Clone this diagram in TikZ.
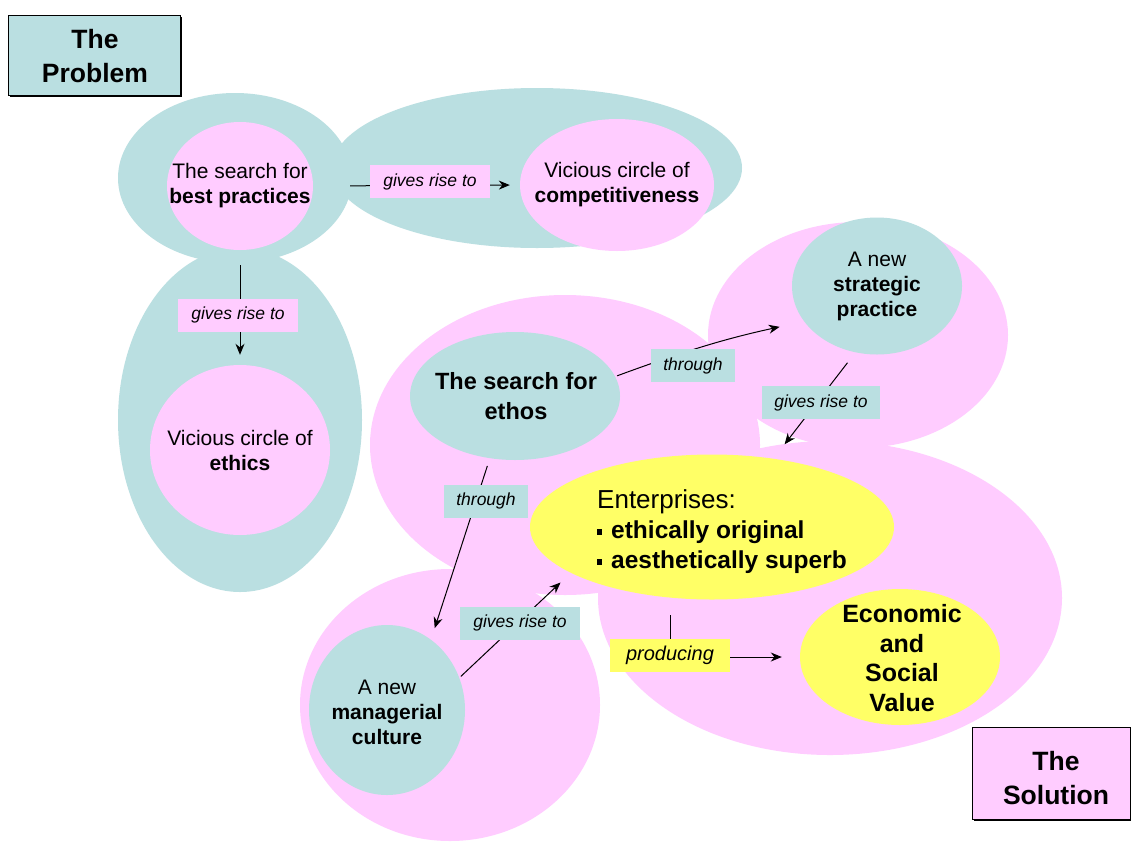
\documentclass[tikz,border=0pt]{standalone}
\usepackage{fontspec}
\setmainfont{Liberation Sans}
\usetikzlibrary{arrows.meta,shapes.geometric,shadows}
\definecolor{tealc}{RGB}{186,223,225}
\definecolor{pinkc}{RGB}{255,204,255}
\definecolor{yelc}{RGB}{255,255,102}
\begin{document}
\begin{tikzpicture}[x=1pt,y=-1pt,
  oval/.style={ellipse, inner sep=0pt},
  txt/.style={inner sep=0pt, align=center, font=\fontsize{21}{25}\selectfont},
  conn/.style={-{Stealth[length=11pt,width=9pt]}, line width=1pt, black},
  lab/.style={font=\fontsize{17.5}{19}\selectfont\itshape, minimum height=33pt, inner sep=0pt},
  titlebox/.style={draw=black, line width=0.8pt, inner sep=0pt,
    drop shadow={shadow xshift=2pt, shadow yshift=-2pt, fill=black, opacity=1}},
  titletxt/.style={inner sep=0pt, align=center, font=\fontsize{26.5}{34.5}\selectfont\bfseries}
]
\useasboundingbox[fill=white] (0,0) rectangle (1131,841);

% problem region
\fill[tealc] (235,178) ellipse [x radius=117, y radius=85];
\fill[tealc] (537,168) ellipse [x radius=205, y radius=80];
\fill[tealc] (240,420) ellipse [x radius=122, y radius=172];

% solution region
\fill[pinkc] (565,445) ellipse [x radius=195, y radius=150];
\fill[pinkc] (858,335) ellipse [x radius=150, y radius=113];
\fill[pinkc] (830,598) ellipse [x radius=232, y radius=157];
\fill[pinkc] (450,705) ellipse [x radius=150, y radius=136];

% ovals
\node[oval, fill=pinkc, minimum width=146pt, minimum height=128pt] (bp) at (240,186) {};
\node[oval, fill=pinkc, minimum width=194pt, minimum height=132pt] (vc) at (617,185) {};
\node[oval, fill=pinkc, minimum width=180pt, minimum height=170pt] (eth) at (240,450) {};
\node[oval, fill=tealc, minimum width=170pt, minimum height=137pt] (sp) at (877,286) {};
\node[oval, fill=tealc, minimum width=210pt, minimum height=128pt] (ethos) at (515,396) {};
\node[oval, fill=tealc, minimum width=156pt, minimum height=170pt] (mc) at (387,710) {};
\node[oval, fill=yelc, minimum width=364pt, minimum height=145pt] (ent) at (712,527) {};
\node[oval, fill=yelc, minimum width=200pt, minimum height=136pt] (val) at (900,657) {};

% texts
\node[txt] (bpt) at (240,186) {The search for\\\textbf{best practices}};
\node[txt] (vct) at (617,185) {Vicious circle of\\\textbf{competitiveness}};
\node[txt] (etht) at (240,450) {Vicious circle of\\\textbf{ethics}};
\node[txt] (spt) at (877,286) {A new\\\textbf{strategic}\\\textbf{practice}};
\node[txt, font=\fontsize{23.5}{29.5}\selectfont\bfseries] (ethost) at (516,396) {The search for\\ethos};
\node[txt] (mct) at (387,712) {A new\\\textbf{managerial}\\\textbf{culture}};
\node[txt, align=left, anchor=west, font=\fontsize{24.5}{30}\selectfont] (entt) at (597,532)
  {\fontsize{26}{30}\selectfont Enterprises:\\
   \rule[4pt]{5pt}{6pt}\hspace{9pt}\textbf{ethically original}\\
   \rule[4pt]{5pt}{6pt}\hspace{9pt}\textbf{aesthetically superb}};
\node[txt, font=\fontsize{25}{29.5}\selectfont\bfseries] (valt) at (902,658)
  {Economic\\and\\Social\\Value};

% title boxes
\node[titlebox, fill=tealc, minimum width=172pt, minimum height=80pt] (prob) at (94,55) {};
\node[titletxt] (probt) at (95,56) {The\\Problem};
\node[titlebox, fill=pinkc, minimum width=158pt, minimum height=92pt] (sol) at (1051,773) {};
\node[titletxt] (solt) at (1056,778) {The\\Solution};

% connectors
\draw[conn, shorten <=37pt, shorten >=10pt] (bp.east) -- (vc.west);
\draw[conn, shorten <=15pt, shorten >=10pt] (bp.south) -- (eth.north);
\draw[conn, shorten <=2pt, shorten >=25pt] (ethos.11) to[bend left=4] (sp.206);
\draw[conn, shorten <=13pt, shorten >=18pt] (sp.252) -- (ent.48);
\draw[conn, shorten <=8pt, shorten >=12pt] (ethos.248) -- (mc.58);
\draw[conn, shorten <=2pt, shorten >=14pt] (mc.24) -- (ent.198);
\coordinate (entb) at (670,615);
\draw[conn, shorten >=18pt] (entb) |- (val.west);

% labels
\node[lab, fill=pinkc, minimum width=120pt] (l1) at (430,181.5) {gives rise to};
\node[lab, fill=pinkc, minimum width=120pt] (l2) at (238,315) {gives rise to};
\node[lab, fill=tealc, minimum width=84pt] (l3) at (693,365.5) {through};
\node[lab, fill=tealc, minimum width=118pt] (l4) at (821,402.5) {gives rise to};
\node[lab, fill=tealc, minimum width=84pt] (l5) at (486,501) {through};
\node[lab, fill=tealc, minimum width=120pt] (l6) at (520,623) {gives rise to};
\node[lab, fill=yelc, minimum width=120pt, font=\fontsize{20}{22}\selectfont\itshape] (l7) at (670,655.5) {producing};
\end{tikzpicture}
\end{document}
